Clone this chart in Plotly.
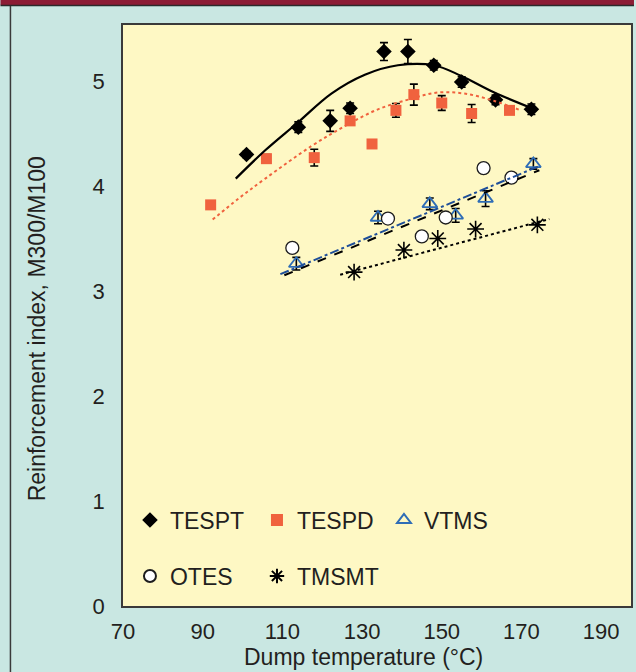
import plotly.graph_objects as go

# ---------------- data ----------------
tespt_x = [101, 114, 122, 127, 135.5, 141.5, 148, 155, 163.5, 172.5]
tespt_y = [4.30, 4.56, 4.62, 4.74, 5.28, 5.28, 5.15, 4.99, 4.82, 4.73]
tespt_err = [0.03, 0.05, 0.10, 0.05, 0.085, 0.115, 0.045, 0.05, 0.045, 0.05]

tespd_x = [92, 106, 118, 127, 132.5, 138.5, 143, 150, 157.5, 167]
tespd_y = [3.82, 4.26, 4.27, 4.62, 4.40, 4.72, 4.87, 4.79, 4.69, 4.72]
tespd_err = [0, 0.04, 0.08, 0.03, 0, 0.065, 0.10, 0.07, 0.086, 0.03]

vtms_x = [113.5, 134, 147, 153.5, 161, 173]
vtms_y = [3.26, 3.70, 3.83, 3.72, 3.88, 4.21]
vtms_err = [0.06, 0.06, 0.055, 0.065, 0.075, 0.05]

otes_x = [112.5, 136.5, 145, 151, 160.5, 167.5]
otes_y = [3.41, 3.69, 3.52, 3.70, 4.17, 4.08]

tmsmt_x = [128, 140.5, 149, 158.5, 174]
tmsmt_y = [3.18, 3.39, 3.50, 3.59, 3.63]

# trend lines
tespt_fit_x = [98.3, 105.7, 113.75, 122.3, 130.7, 139, 148, 154.8, 163.2, 174]
tespt_fit_y = [4.07, 4.34, 4.60, 4.88, 5.06, 5.15, 5.15, 5.05, 4.89, 4.72]
tespd_fit_x = [92.5, 99, 105.7, 117.3, 125.7, 134, 142.3, 149, 155.7, 163.2, 169.8]
tespd_fit_y = [3.68, 3.88, 4.07, 4.38, 4.57, 4.73, 4.83, 4.89, 4.88, 4.81, 4.72]
vtms_fit_x = [109.5, 174.5]
vtms_fit_y = [3.16, 4.19]
otes_fit_x = [110.5, 174.5]
otes_fit_y = [3.15, 4.15]
tmsmt_fit_x = [124.5, 177]
tmsmt_fit_y = [3.155, 3.685]

x_ticks = [70, 90, 110, 130, 150, 170, 190]
y_ticks = [0, 1, 2, 3, 4, 5]

# ---------------- layout geometry ----------------
W, H = 636, 672
ML, MR, MT, MB = 123, 3, 25, 66
PW, PH = W - ML - MR, H - MT - MB


def pxx(px):
    return (px - ML) / PW


def pyy(py):
    return (H - MB - py) / PH


FONT = "Liberation Sans, Arial, Helvetica, sans-serif"
TXT = "#231f20"
ORANGE = "#f0623e"
BLUE = "#2f6db6"
DBLUE = "#1f4f99"
ERR = dict(type="data", thickness=1.6, width=4, color="#000000")

fig = go.Figure()

fig.add_trace(go.Scatter(
    x=tespt_x, y=tespt_y, mode="markers", name="TESPT", legend="legend",
    marker=dict(symbol="diamond", size=12, color="#000000"),
    error_y=dict(array=tespt_err, **ERR)))
fig.add_trace(go.Scatter(
    x=tespd_x, y=tespd_y, mode="markers", name="TESPD", legend="legend",
    marker=dict(symbol="square", size=11, color=ORANGE),
    error_y=dict(array=tespd_err, **ERR)))
fig.add_trace(go.Scatter(
    x=vtms_x, y=vtms_y, mode="markers", name="VTMS", legend="legend",
    marker=dict(symbol="triangle-up", size=13, color="rgba(255,255,255,0)",
                line=dict(color=BLUE, width=1.8)),
    error_y=dict(array=vtms_err, **ERR)))
fig.add_trace(go.Scatter(
    x=otes_x, y=otes_y, mode="markers", name="OTES", legend="legend2",
    marker=dict(symbol="circle", size=13, color="#ffffff",
                line=dict(color="#1d1d1d", width=1.3))))
fig.add_trace(go.Scatter(
    x=tmsmt_x, y=tmsmt_y, mode="markers", name="TMSMT", legend="legend2",
    marker=dict(symbol="asterisk-open", size=14, color="#000000",
                line=dict(color="#000000", width=1.6))))

# trend lines on top
fig.add_trace(go.Scatter(x=tespt_fit_x, y=tespt_fit_y, mode="lines", showlegend=False,
                         line=dict(color="#000000", width=2.2, shape="spline")))
fig.add_trace(go.Scatter(x=tespd_fit_x, y=tespd_fit_y, mode="lines", showlegend=False,
                         line=dict(color=ORANGE, width=2, dash="dot", shape="spline")))
fig.add_trace(go.Scatter(x=vtms_fit_x, y=vtms_fit_y, mode="lines", showlegend=False,
                         line=dict(color=DBLUE, width=2, dash="dashdot")))
fig.add_trace(go.Scatter(x=otes_fit_x, y=otes_fit_y, mode="lines", showlegend=False,
                         line=dict(color="#000000", width=2, dash="dash")))
fig.add_trace(go.Scatter(x=tmsmt_fit_x, y=tmsmt_fit_y, mode="lines", showlegend=False,
                         line=dict(color="#000000", width=2, dash="dot")))

axis_common = dict(showgrid=False, zeroline=False, showline=True, mirror=True,
                   linecolor="#3a3a3a", linewidth=1.5, ticks="outside",
                   tickcolor="rgba(0,0,0,0)",
                   tickfont=dict(family=FONT, size=22, color=TXT))

fig.update_layout(
    width=W, height=H,
    margin=dict(l=ML, r=MR, t=MT, b=MB, pad=0),
    paper_bgcolor="#c9e7e2",
    plot_bgcolor="#fef8c4",
    font=dict(family=FONT, color=TXT),
    xaxis=dict(range=[70, 197.5], tickvals=x_ticks, ticklen=5, **axis_common),
    yaxis=dict(range=[0, 5.533], tickvals=y_ticks, ticklen=12, **axis_common),
    legend=dict(orientation="h", x=pxx(130), xanchor="left", y=pyy(520), yanchor="middle",
                bgcolor="rgba(0,0,0,0)", borderwidth=0, entrywidth=82,
                font=dict(family=FONT, size=23, color=TXT), itemsizing="constant"),
    legend2=dict(orientation="h", x=pxx(130), xanchor="left", y=pyy(576), yanchor="middle",
                 bgcolor="rgba(0,0,0,0)", borderwidth=0, entrywidth=82,
                 font=dict(family=FONT, size=23, color=TXT), itemsizing="constant"),
    annotations=[
        dict(text="Dump temperature (°C)", xref="paper", yref="paper",
             x=pxx(364), y=pyy(657), xanchor="center", yanchor="middle",
             showarrow=False, font=dict(family=FONT, size=23, color=TXT)),
        dict(text="Reinforcement index, M300/M100", xref="paper", yref="paper",
             x=pxx(37), y=pyy(329), xanchor="center", yanchor="middle", textangle=-90,
             showarrow=False, font=dict(family=FONT, size=23, color=TXT)),
    ],
    shapes=[
        dict(type="rect", xref="paper", yref="paper", x0=pxx(0), x1=pxx(W),
             y0=pyy(5), y1=pyy(0), fillcolor="#8c1c34", line=dict(width=0), layer="above"),
        dict(type="line", xref="paper", yref="paper", x0=pxx(0), x1=pxx(W),
             y0=pyy(5.5), y1=pyy(5.5), line=dict(color="#2a2a2a", width=1.5), layer="above"),
        dict(type="line", xref="paper", yref="paper", x0=pxx(10), x1=pxx(10),
             y0=pyy(6), y1=pyy(H), line=dict(color="#3a3a3a", width=1.5), layer="above"),
    ],
)

fig.write_html(
    "out.html",
    config={"displayModeBar": False},
    post_script="document.body.style.margin='0';document.body.style.padding='0';"
                "document.body.style.overflow='hidden';",
)
